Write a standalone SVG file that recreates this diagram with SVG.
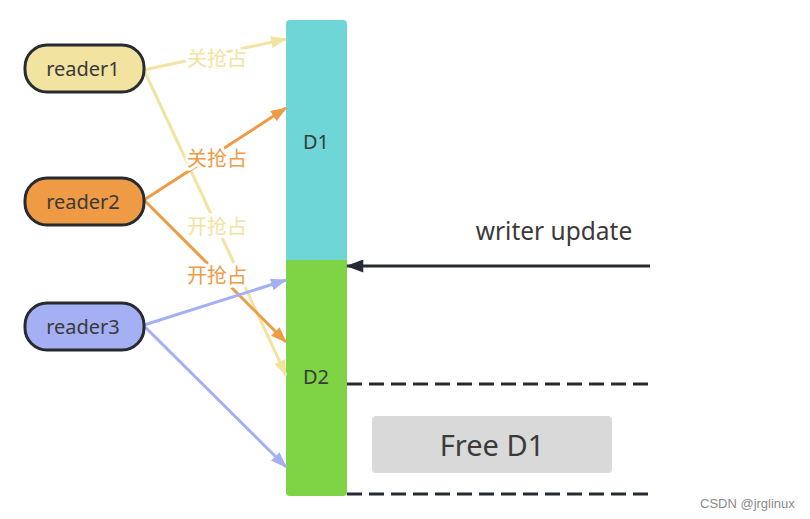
<svg xmlns="http://www.w3.org/2000/svg" width="810" height="519" viewBox="0 0 810 519">
  <style>
    .pill { stroke: #262b31; stroke-width: 3; }
    .lbl { font-family: "Noto Sans", "Open Sans", sans-serif; font-size: 20px; fill: #3a3a3a; text-anchor: middle; dominant-baseline: central; }
    .cn { font-family: "Noto Sans CJK SC", sans-serif; font-size: 20px; text-anchor: middle; dominant-baseline: central; paint-order: stroke; stroke: #ffffff; stroke-width: 6; stroke-linejoin: round; }
    .edge { fill: none; stroke-width: 3; }
    .dash { fill: none; stroke: #262b31; stroke-width: 3; stroke-dasharray: 15 7; }
  </style>
  <defs>
    <marker id="ah-y" viewBox="0 0 16 12" refX="15" refY="6" markerWidth="16" markerHeight="12" markerUnits="userSpaceOnUse" orient="auto">
      <path d="M0,0 L16,6 L0,12 z" fill="#f2e3a0"/>
    </marker>
    <marker id="ah-o" viewBox="0 0 16 12" refX="15" refY="6" markerWidth="16" markerHeight="12" markerUnits="userSpaceOnUse" orient="auto">
      <path d="M0,0 L16,6 L0,12 z" fill="#ef9a45"/>
    </marker>
    <marker id="ah-b" viewBox="0 0 16 12" refX="15" refY="6" markerWidth="16" markerHeight="12" markerUnits="userSpaceOnUse" orient="auto">
      <path d="M0,0 L16,6 L0,12 z" fill="#a4aff4"/>
    </marker>
    <marker id="ah-k" viewBox="0 0 16 12" refX="15" refY="6" markerWidth="18" markerHeight="13" markerUnits="userSpaceOnUse" orient="auto">
      <path d="M0,0 L16,6 L0,12 z" fill="#262b31"/>
    </marker>
  </defs>

  <rect width="810" height="519" fill="#ffffff"/>

  <!-- memory block: D1 on top, D2 below -->
  <g id="d1">
    <path d="M290,20 H343 Q347,20 347,24 V262 H286 V24 Q286,20 290,20 Z" fill="#6fd6d8"/>
    <text class="lbl" x="316" y="141">D1</text>
  </g>
  <g id="d2">
    <path d="M286,260 H347 V492 Q347,496 343,496 H290 Q286,496 286,492 Z" fill="#7ed444"/>
    <text class="lbl" x="316" y="376">D2</text>
  </g>

  <g id="free-d1">
    <rect x="372" y="416" width="240" height="57" rx="4" fill="#d9d9d9"/>
    <text class="lbl" x="492" y="444" style="font-size:29px">Free D1</text>
  </g>

  <g id="writer-label">
    <text class="lbl" x="554" y="230" style="font-size:24.5px">writer update</text>
  </g>

  <!-- connectors -->
  <g id="connectors">
    <line class="edge" x1="144" y1="70" x2="286" y2="39" stroke="#f2e3a0" marker-end="url(#ah-y)"/>
    <line class="edge" x1="144" y1="70" x2="286" y2="375" stroke="#f2e3a0" marker-end="url(#ah-y)"/>
    <line class="edge" x1="144" y1="200" x2="286" y2="108" stroke="#ef9a45" marker-end="url(#ah-o)"/>
    <line class="edge" x1="144" y1="200" x2="286" y2="342" stroke="#ef9a45" marker-end="url(#ah-o)"/>
    <line class="edge" x1="144" y1="325" x2="286" y2="280" stroke="#a4aff4" marker-end="url(#ah-b)"/>
    <line class="edge" x1="144" y1="326" x2="286" y2="467" stroke="#a4aff4" marker-end="url(#ah-b)"/>
    <line class="edge" x1="650" y1="266" x2="347" y2="266" stroke="#262b31" stroke-width="2.5" marker-end="url(#ah-k)"/>
    <line class="dash" x1="347" y1="384" x2="648" y2="384"/>
    <line class="dash" x1="347" y1="494" x2="648" y2="494"/>
    <text class="cn" x="217" y="57" fill="#f2e3a0">关抢占</text>
    <text class="cn" x="217" y="157" fill="#ef9a45">关抢占</text>
    <text class="cn" x="217" y="225" fill="#f2e3a0">开抢占</text>
    <text class="cn" x="217" y="274" fill="#ef9a45">开抢占</text>
  </g>

  <g id="reader1">
    <rect class="pill" x="25" y="45" width="119" height="47" rx="22" fill="#f2e3a0"/>
    <text class="lbl" x="83" y="68.5">reader1</text>
  </g>
  <g id="reader2">
    <rect class="pill" x="25" y="178" width="119" height="47" rx="22" fill="#ef9a45"/>
    <text class="lbl" x="83" y="201.5">reader2</text>
  </g>
  <g id="reader3">
    <rect class="pill" x="25" y="303" width="119" height="47" rx="22" fill="#a4aff4"/>
    <text class="lbl" x="83" y="326.5">reader3</text>
  </g>

  <text x="700" y="508" font-family="Liberation Sans, sans-serif" font-size="13" fill="#8a8a8a">CSDN @jrglinux</text>
</svg>
